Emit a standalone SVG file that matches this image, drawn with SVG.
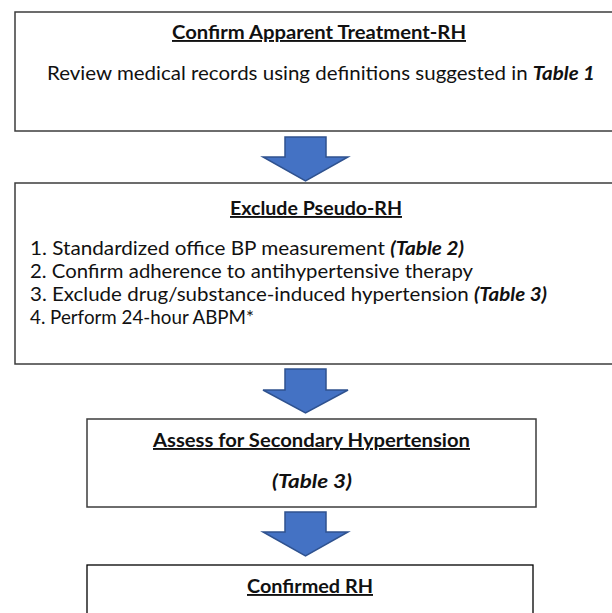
<svg xmlns="http://www.w3.org/2000/svg" width="612" height="613" viewBox="0 0 612 613">
<defs>
<style>
.box{fill:#fff;stroke:#3c3c3c;stroke-width:1.5}
.arrow{fill:#4472C4;stroke:#2F528F;stroke-width:1.5;stroke-linejoin:miter}
text{font-family:Lato,"Liberation Sans",sans-serif;fill:#111;font-size:19px}
.title{font-weight:bold;text-decoration:underline;text-anchor:middle}
.c{text-anchor:middle}
.bi{font-weight:bold;font-style:italic}
</style>
</defs>
<rect width="612" height="613" fill="#fff"/>
<g id="connectors">
<path class="arrow" d="M285,137 H326 V157 H348 L305.5,181 L263,157 H285 Z"/>
<path class="arrow" d="M285,369 H326 V390 H348 L305.5,413 L263,390 H285 Z"/>
<path class="arrow" d="M285,512 H326 V532 H348 L305.5,556 L263,532 H285 Z"/>
</g>
<g id="node1">
<rect class="box" x="15" y="12" width="605" height="119"/>
<text class="title" x="319" y="39" textLength="294" lengthAdjust="spacingAndGlyphs">Confirm Apparent Treatment-RH</text>
<text class="c" x="321" y="80" textLength="548" lengthAdjust="spacingAndGlyphs">Review medical records using definitions suggested in <tspan class="bi">Table 1</tspan></text>
</g>
<g id="node2">
<rect class="box" x="15" y="183" width="605" height="181"/>
<text class="title" x="316" y="215" textLength="172" lengthAdjust="spacingAndGlyphs">Exclude Pseudo-RH</text>
<text x="30" y="255" textLength="434" lengthAdjust="spacingAndGlyphs">1. Standardized office BP measurement <tspan class="bi">(Table 2)</tspan></text>
<text x="30" y="278" textLength="443" lengthAdjust="spacingAndGlyphs">2. Confirm adherence to antihypertensive therapy</text>
<text x="30" y="301" textLength="517" lengthAdjust="spacingAndGlyphs">3. Exclude drug/substance-induced hypertension <tspan class="bi">(Table 3)</tspan></text>
<text x="30" y="324" textLength="224" lengthAdjust="spacingAndGlyphs">4. Perform 24-hour ABPM*</text>
</g>
<g id="node3">
<rect class="box" x="87" y="419" width="449" height="88"/>
<text class="title" x="311.5" y="447" textLength="317" lengthAdjust="spacingAndGlyphs">Assess for Secondary Hypertension</text>
<text class="c bi" x="312" y="488" textLength="80" lengthAdjust="spacingAndGlyphs">(Table 3)</text>
</g>
<g id="node4">
<rect x="87" y="565" width="446" height="60" fill="#fff" stroke="#000" stroke-width="1.3"/>
<text class="title" x="310" y="593" textLength="126" lengthAdjust="spacingAndGlyphs">Confirmed RH</text>
</g>
</svg>
